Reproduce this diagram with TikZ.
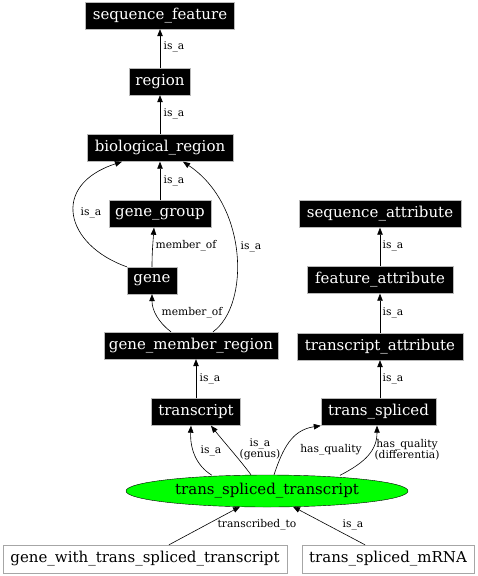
\documentclass[tikz,border=0pt]{standalone}
\usepackage{fontspec}
\setmainfont{DejaVu Serif}
\usetikzlibrary{arrows.meta,calc,shapes.geometric}
\tikzset{
  bx/.style={draw=gray!55, fill=black, text=white, inner sep=0pt, minimum height=27pt, font=\fontsize{15}{17}\selectfont},
  wbx/.style={draw=gray!70, fill=white, text=black, inner sep=0pt, minimum height=28pt, font=\fontsize{15}{17}\selectfont},
  el/.style={font=\fontsize{10.7}{11}\selectfont, inner sep=0pt, align=center},
  ar/.style={-{Triangle[length=7pt,width=5.5pt]}, line width=0.6pt, black},
}
\begin{document}
\begin{tikzpicture}[x=1pt,y=-1pt]
\useasboundingbox (0,0) rectangle (478,576);
% nodes
\node[bx, minimum width=149pt] (sf) at (160,15.5) {sequence\_feature};
\node[bx, minimum width=61pt] (rg) at (160,81.5) {region};
\node[bx, minimum width=146pt] (br) at (160,148) {biological\_region};
\node[bx, minimum width=102pt] (gg) at (160,214) {gene\_group};
\node[bx, minimum width=50pt] (ge) at (152,280.5) {gene};
\node[bx, minimum width=174pt] (gmr) at (191,345.5) {gene\_member\_region};
\node[bx, minimum width=89pt] (tr) at (196,412) {transcript};
\node[bx, minimum width=115pt] (ts) at (378.5,412) {trans\_spliced};
\node[bx, minimum width=162pt] (sa) at (380,214) {sequence\_attribute};
\node[bx, minimum width=146pt] (fa) at (380,280) {feature\_attribute};
\node[bx, minimum width=166pt] (ta) at (380,346.5) {transcript\_attribute};
\node[ellipse, draw=black, fill=green, inner sep=0pt, minimum width=282pt, minimum height=32pt, font=\fontsize{15}{17}\selectfont] (tst) at (267,491) {trans\_spliced\_transcript};
\node[wbx, minimum width=284pt] (gw) at (145,559) {gene\_with\_trans\_spliced\_transcript};
\node[wbx, minimum width=172pt] (mr) at (388,559) {trans\_spliced\_mRNA};
% straight is_a chains
\draw[ar] (rg) -- (sf);
\node[el] (l1) at (174,47) {is\_a};
\draw[ar] (br) -- (rg);
\node[el] (l2) at (174,114) {is\_a};
\draw[ar] (gg) -- (br);
\node[el] (l3) at (174,181) {is\_a};
\draw[ar] (tr) -- (tr |- gmr.south);
\node[el] (l4) at (210,379) {is\_a};
\draw[ar] (ts.north -| ta) -- (ta);
\node[el] (l5) at (393,379) {is\_a};
\draw[ar] (ta) -- (fa);
\node[el] (l6) at (393,313) {is\_a};
\draw[ar] (fa) -- (sa);
\node[el] (l7) at (393,246) {is\_a};
% curved edges, left part
\draw[ar] (ge.north west) .. controls (65,245) and (50,185) .. ($(br.south)+(-38,0)$);
\node[el] (l8) at (91,213) {is\_a};
\draw[ar] (ge.north) .. controls (152,252) and (153,242) .. ($(gg.south)+(-6,0)$);
\node[el] (l9) at (186,246) {member\_of};
\draw[ar] ($(gmr.north)+(-20,0)$) .. controls (158,322) and (152,310) .. (ge.south);
\node[el] (l10) at (192,313) {member\_of};
\draw[ar] ($(gmr.north)+(22,0)$) .. controls (250,305) and (248,205) .. ($(br.south)+(23,0)$);
\node[el] (l11) at (251,247) {is\_a};
% edges from trans_spliced_transcript
\draw[ar] ($(tst.north)+(-55,0.5)$) .. controls (195,465) and (190,447) .. ($(tr.south)+(-5,0)$);
\node[el] (l12) at (211,451) {is\_a};
\draw[ar] ($(tst.north)+(-16,0)$) .. controls (240,460) and (224,442) .. ($(tr.south)+(15,0)$);
\node[el] (l13) at (260,449.5) {is\_a\\(genus)};
\draw[ar] ($(tst.north)+(7,0)$) .. controls (283,448) and (292,430) .. (ts.south west);
\node[el] (l14) at (331,450) {has\_quality};
\draw[ar] ($(tst.north)+(73,0.5)$) .. controls (366,462) and (377,450) .. ($(ts.south)+(-1.5,0)$);
\node[el] (l15) at (407,449.5) {has\_quality\\(differentia)};
% bottom edges
\draw[ar] ($(gw.north)+(24,0)$) -- ($(tst.south)+(-27,-0.5)$);
\node[el] (l16) at (257,525) {transcribed\_to};
\draw[ar] ($(mr.north)+(-23,0)$) -- ($(tst.south)+(26,-0.5)$);
\node[el] (l17) at (353,525) {is\_a};
\end{tikzpicture}
\end{document}
